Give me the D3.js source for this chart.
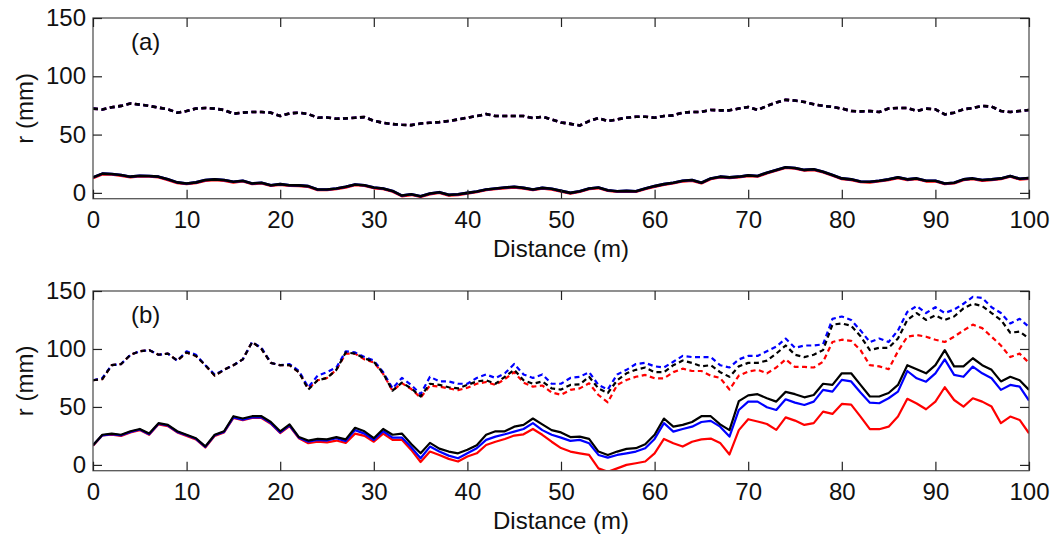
<!DOCTYPE html>
<html><head><meta charset="utf-8">
<script src="https://cdn.jsdelivr.net/npm/d3@7/dist/d3.min.js"></script>
<style>
body{margin:0;background:#fff}
text{font-family:"Liberation Sans",Arial,Helvetica,sans-serif;fill:#111}
</style>
</head><body>
<svg id="chart" width="1054" height="535"></svg>
<script>
// ---------- data ----------
const distance = d3.range(0, 101); // metres, 1 m sampling
const xTicks = [0,10,20,30,40,50,60,70,80,90,100];
const yTicks = [0,50,100,150];
const xLabel = "Distance (m)";
const yLabel = "r (mm)";
const panelLabels = ["(a)", "(b)"];

// Panel (a): the three estimates overlap almost exactly
const aDashedRed = [72.3,71.5,73.4,74.6,76.6,75.7,74.6,73.1,71.7,68.8,70.2,72.3,72.8,72.3,71.1,67.9,68.8,69.4,69.4,68.8,65.9,68.2,68.8,67.6,64.5,64.7,63.6,63.9,64.5,65.0,61.8,60.1,59.0,58.4,58.1,59.5,60.1,60.7,61.6,63.0,64.5,65.9,67.6,65.9,65.9,65.9,65.9,64.2,65.3,63.0,60.4,59.2,57.8,61.6,64.2,61.6,63.0,64.5,65.3,65.3,64.5,65.9,66.5,68.8,69.4,69.4,71.1,70.8,70.8,72.3,73.7,71.1,74.6,77.5,79.8,79.2,78.0,76.0,74.6,73.7,72.3,70.2,69.9,70.2,69.4,72.3,72.8,72.8,70.2,72.3,71.7,67.3,68.8,71.7,72.8,74.6,74.0,70.2,69.4,70.2,71.1];
const aDashedBlue = aDashedRed;
const aDashedBlack = aDashedRed;
const aSolidRed = [12.8,16.0,15.7,14.8,13.4,14.2,14.0,13.4,11.1,8.5,7.6,8.5,10.5,11.1,10.5,9.0,9.9,7.6,8.2,6.1,7.0,6.1,5.9,5.3,2.4,2.4,3.3,4.7,6.7,6.1,4.1,3.3,1.2,-2.8,-1.7,-3.4,-1.1,0.1,-2.2,-1.7,-0.5,0.7,2.4,3.3,4.1,4.7,3.8,2.4,3.8,3.0,1.2,-0.5,0.9,3.3,4.1,1.8,0.9,1.2,0.9,3.3,5.3,7.0,8.2,9.9,10.5,8.2,11.9,13.4,12.8,13.4,14.5,14.0,16.8,19.2,21.5,20.9,19.2,19.7,17.7,14.8,11.9,11.1,9.3,9.0,9.9,11.1,12.8,11.1,11.9,9.9,9.9,7.6,8.2,11.1,11.9,10.5,11.1,11.9,14.0,11.6,12.2];
const aSolidBlue = [13.3,16.5,16.2,15.3,13.9,14.7,14.5,13.9,11.6,9.0,8.1,9.0,11.0,11.6,11.0,9.5,10.4,8.1,8.7,6.6,7.5,6.6,6.4,5.8,2.9,2.9,3.8,5.2,7.2,6.6,4.6,3.8,1.7,-2.3,-1.2,-2.9,-0.6,0.6,-1.7,-1.2,0.0,1.2,2.9,3.8,4.6,5.2,4.3,2.9,4.3,3.5,1.7,0.0,1.4,3.8,4.6,2.3,1.4,1.7,1.4,3.8,5.8,7.5,8.7,10.4,11.0,8.7,12.4,13.9,13.3,13.9,15.0,14.5,17.3,19.7,22.0,21.4,19.7,20.2,18.2,15.3,12.4,11.6,9.8,9.5,10.4,11.6,13.3,11.6,12.4,10.4,10.4,8.1,8.7,11.6,12.4,11.0,11.6,12.4,14.5,12.1,12.7];
const aSolidBlack = aSolidBlue;

// Panel (b): dashed = upper estimates, solid = lower estimates
const bDashedBlue = [73,75,86,87,95,98,99,95,96,90,98,95,86,78,82,86,91,106,101,88,86,87,81,67,77,80,84,98,97,93,90,80,66,75,69,61,76,72,72,70,70,75,78,75,79,87,78,75,78,70,70,75,76,80,69,65,78,82,87,88,85,84,89,94,93,93,93,86,84,91,94,94,98,102,109,101,103,103,104,126,128,125,116,106,109,106,116,132,137,131,136,131,134,139,145,144,136,131,122,126,119];
const bDashedBlack = [73,74,86,87,95,98,99,95,96,90,97,94,86,77,82,86,91,106,100,88,86,86,80,65,73,75,82,97,96,92,89,79,64,71,66,59,70,69,67,66,69,72,73,70,76,82,73,70,72,66,65,69,69.5,76,66,62,73,79,82,84,80,80,86,90,88,85,86,80,76,85,88,88,90,96,103,95,93,95,99,121,122,120,111,99,101,101,109,125,131,125,129,125,128,135,139,137,131,125,114,115,109];
const bDashedRed = [73,74,86,87,95,98,99,95,96,90,97,94,86,77,82,86,91,106,100,88,86,86,80,66,73,75,82,96,96,91,88.5,78.5,64,70.5,65.5,58,68.5,67.5,66,64.5,66.5,70,71.5,69,74,80,71,67.5,68.5,62.5,60.5,64.7,66,70.4,60.3,54,69,73.3,76,77.6,74.7,74.7,80,83,81,81,77,75,65,77,80.5,82,79,84,91,84.5,84.5,84,89,106,108,107,99,86,85,82.5,98,110.6,112,110.6,108,106,110.6,116,121,118,110.6,103,93,96,88];
const bSolidBlack = [17,26,27,26,29,31,27,36,34.5,29,26,23,16,26,29,42,40,42,42,37,29,35,24,21,22.4,22,24,22,32,29,23,31,26,27,18,10,19,14,11.5,10,13,17,26,29,29,33,34.5,40,35,30,28,24,24.4,22.4,11.5,8.6,11.5,13.8,14.4,17.8,26,40,33,34.5,37,42,42,35,30,55,60,61,57.5,54.6,63,61,58.3,60.3,70,69,79,79,69,59,59,62,69,86,82.5,79,86,99,85,85,92,86,82,72,76,73,64.7];
const bSolidBlue = [17,25.5,26.5,25.5,28.5,30.5,26.5,35.5,34,28.5,25.5,22.5,15.5,25.5,28.5,41,39,41,41,36,28,34,23.5,20,21.5,21,23,20.5,30,27,21.5,29,23.6,23.6,15.2,5.7,15.8,11.5,8,5.7,10,14.4,21.6,24.4,26.4,28.7,31,36,30,26,23.5,20.7,21.6,18.7,8.6,6.3,8.6,10,11.5,14.4,22.4,36,28.7,31,33,37,38,33,24.4,47.4,54.6,54.6,49.7,47.4,56.6,53.7,51.7,54.6,64.7,63.2,73.3,72,62.4,53.7,53.2,57.5,63.2,81,74.7,71.8,79,91,77.6,76,84.8,79,74.7,64.7,69,67.5,55.5];
const bSolidRed = [16.5,25.5,26,25,28,30,26,35,33.5,28,25,22,15,25,28,40.5,38.5,40.5,40.5,35.5,27.5,33.5,23,18.7,20,19.5,21,19,27,25,20,27,21.6,21.6,12.9,2.5,11.5,8.6,5.2,2.9,7.2,10,17.2,20,22.4,25.3,26.4,31,26,20,14.5,11.5,10,8.6,-3,-6,-3,0,1.4,2.9,10,22.4,18.7,15.8,20,22,22.7,19,9,30,39.4,37.4,35.3,30.2,41,38.2,34.5,36,46,44,52.6,52,41.7,30.8,30.8,33,41.7,57,53,48,54.6,67,56,50.3,57.5,54.6,50.3,36,41.7,38.8,27.3];

// ---------- drawing ----------
const svg = d3.select("#chart");
const left = 93, right = 1029;
const panels = [
  {label: panelLabels[0], top: 18, bottom: 198.7, width: 2.6,
   series: [[aDashedRed,"#ff0000",true],[aDashedBlue,"#0000ff",true],[aDashedBlack,"#000",true],
            [aSolidRed,"#ff0000",false],[aSolidBlue,"#0000ff",false],[aSolidBlack,"#000",false]]},
  {label: panelLabels[1], top: 291, bottom: 470.7, width: 2.2,
   series: [[bDashedRed,"#ff0000",true],[bDashedBlue,"#0000ff",true],[bDashedBlack,"#000",true],
            [bSolidRed,"#ff0000",false],[bSolidBlue,"#0000ff",false],[bSolidBlack,"#000",false]]}
];

const x = d3.scaleLinear().domain([0,100]).range([left,right]);

panels.forEach((p, i) => {
  const y = d3.scaleLinear().domain([-5,150]).range([p.bottom, p.top]);
  const g = svg.append("g");
  const clipId = "clip" + i;
  svg.append("clipPath").attr("id", clipId).append("rect")
    .attr("x", left).attr("y", p.top).attr("width", right-left).attr("height", p.bottom-p.top);

  const line = d3.line().x((d,k) => x(distance[k])).y(d => y(d));
  const lg = g.append("g").attr("clip-path", `url(#${clipId})`);
  p.series.forEach(([vals, col, dashed]) => {
    lg.append("path").datum(vals)
      .attr("d", line)
      .attr("fill","none")
      .attr("stroke", col)
      .attr("stroke-width", p.width)
      .attr("stroke-linejoin","round")
      .attr("stroke-dasharray", dashed ? "5,3.5" : null);
  });

  // frame
  g.append("rect").attr("x", left).attr("y", p.top)
    .attr("width", right-left).attr("height", p.bottom-p.top)
    .attr("fill","none").attr("stroke","#555").attr("stroke-width",1.3);

  const styleAxis = sel => {
    sel.select(".domain").remove();
    sel.selectAll(".tick line").attr("stroke","#222").attr("stroke-width",1.2);
    sel.selectAll(".tick text").attr("font-size","24px")
       .attr("font-family","'Liberation Sans',Arial,sans-serif").attr("fill","#111");
  };
  g.append("g").attr("transform",`translate(0,${p.bottom})`)
    .call(d3.axisBottom(x).tickValues(xTicks).tickSizeInner(-9).tickSizeOuter(0).tickPadding(12))
    .call(styleAxis);
  g.append("g").attr("transform",`translate(0,${p.top})`)
    .call(d3.axisTop(x).tickValues(xTicks).tickSizeInner(-9).tickSizeOuter(0).tickFormat(""))
    .call(styleAxis);
  g.append("g").attr("transform",`translate(${left},0)`)
    .call(d3.axisLeft(y).tickValues(yTicks).tickSizeInner(-9).tickSizeOuter(0).tickPadding(7))
    .call(styleAxis);
  g.append("g").attr("transform",`translate(${right},0)`)
    .call(d3.axisRight(y).tickValues(yTicks).tickSizeInner(-9).tickSizeOuter(0).tickFormat(""))
    .call(styleAxis);

  // axis titles
  g.append("text").attr("x", (left+right)/2).attr("y", p.bottom + 58)
    .attr("text-anchor","middle").attr("font-size","24px").text(xLabel);
  g.append("text")
    .attr("transform", `translate(33,${(p.top+p.bottom)/2}) rotate(-90)`)
    .attr("text-anchor","middle").attr("font-size","24px").text(yLabel);
  // panel label
  g.append("text").attr("x", 131).attr("y", p.top + 32)
    .attr("font-size","24px").text(p.label);
});
</script>
</body></html>
